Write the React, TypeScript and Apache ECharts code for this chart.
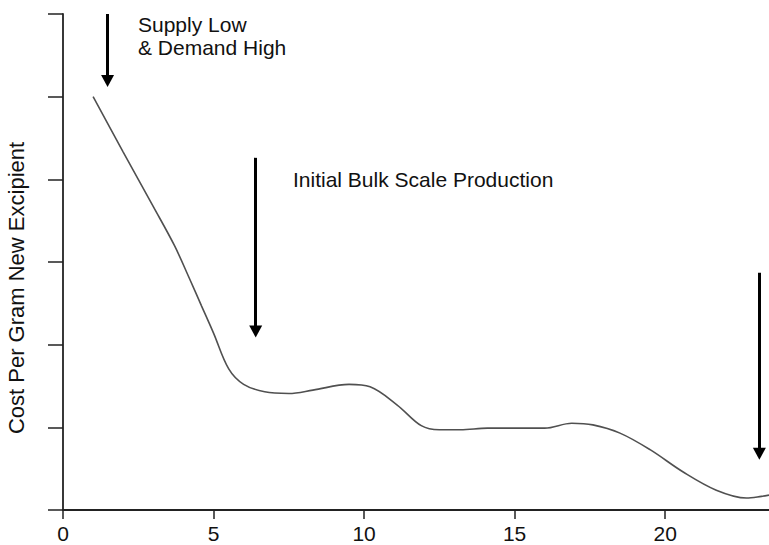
import React, { useEffect, useRef } from "react";
import * as echarts from "echarts";

// Curve: x (time) and cost values
const xs = [1, 2, 3, 3.7, 4.2, 4.6, 5, 5.5, 6, 6.7, 7.5, 8.3, 9.5, 10.2, 11.1, 11.9, 12.5, 13.2, 14.1, 16, 16.9, 17.6, 18.5, 19.5, 20.6, 21.7, 22.7, 23.2, 23.45];
const costs = [5.0, 4.33, 3.67, 3.2, 2.8, 2.47, 2.14, 1.71, 1.52, 1.43, 1.41, 1.45, 1.52, 1.49, 1.27, 1.02, 0.97, 0.97, 0.99, 0.99, 1.05, 1.03, 0.93, 0.73, 0.46, 0.24, 0.145, 0.165, 0.18];

// Axis ticks
const xTicks = [0, 5, 10, 15, 20];
const xMax = 23.45;
const yMax = 6;

// Arrows (data coordinates): x, start value, end value
const arrowX = [1.48, 6.4, 23.13];
const arrowFrom = [6.0, 4.26, 2.87];
const arrowTo = [5.19, 2.16, 0.68];

// Texts
const yTitle = "Cost Per Gram New Excipient";
const note1 = "Supply Low\n& Demand High";
const note2 = "Initial Bulk Scale Production";

const FONT = "'Liberation Sans', Arial, Helvetica, sans-serif";

export default function App() {
  const ref = useRef<HTMLDivElement>(null);
  useEffect(() => {
    if (!ref.current) return;
    const chart = echarts.init(ref.current, null, { renderer: "svg" });
    const axisColor = "#222222";
    chart.setOption({
      animation: false,
      backgroundColor: "#ffffff",
      grid: { left: 63, right: 0, top: 14, bottom: 35, containLabel: false },
      xAxis: {
        type: "value",
        min: 0,
        max: xMax,
        interval: 5,
        axisLine: { show: true, lineStyle: { color: axisColor, width: 1.8 } },
        axisTick: { show: true, length: 9, lineStyle: { color: axisColor, width: 1.5 }, customValues: xTicks },
        axisLabel: { show: true, margin: 13, fontSize: 21, fontFamily: FONT, color: "#111111", customValues: xTicks },
        splitLine: { show: false },
      },
      yAxis: {
        type: "value",
        min: 0,
        max: yMax,
        interval: 1,
        axisLine: { show: true, lineStyle: { color: axisColor, width: 1.8 } },
        axisTick: { show: true, length: 15, lineStyle: { color: axisColor, width: 1.5 } },
        axisLabel: { show: false },
        splitLine: { show: false },
      },
      series: [
        {
          type: "line",
          data: xs.map((x, i) => [x, costs[i]]),
          showSymbol: false,
          smooth: 0.35,
          lineStyle: { color: "#505050", width: 1.6 },
          silent: true,
          markLine: {
            silent: true,
            animation: false,
            symbol: ["none", "triangle"],
            symbolSize: [13, 12],
            label: { show: false },
            lineStyle: { color: "#000000", width: 3, type: "solid" },
            data: arrowX.map((x, i) => [
              { coord: [x, arrowFrom[i]] },
              { coord: [x, arrowTo[i]] },
            ]),
          },
        },
      ],
      graphic: [
        {
          type: "text",
          x: 16.4,
          y: 288,
          rotation: Math.PI / 2,
          style: {
            text: yTitle,
            font: `22px ${FONT}`,
            fill: "#111111",
            textAlign: "center",
            textVerticalAlign: "middle",
          },
        },
        {
          type: "text",
          x: 138,
          y: 12.5,
          style: {
            text: note1,
            font: `21px ${FONT}`,
            lineHeight: 23.5,
            fill: "#111111",
            textAlign: "left",
            textVerticalAlign: "top",
          },
        },
        {
          type: "text",
          x: 293,
          y: 169,
          style: {
            text: note2,
            font: `21px ${FONT}`,
            fill: "#111111",
            textAlign: "left",
            textVerticalAlign: "top",
          },
        },
      ],
    });
    return () => chart.dispose();
  }, []);
  return (
    <div
      ref={ref}
      style={{ position: "fixed", left: 0, top: 0, width: 769, height: 545, background: "#fff" }}
    />
  );
}
